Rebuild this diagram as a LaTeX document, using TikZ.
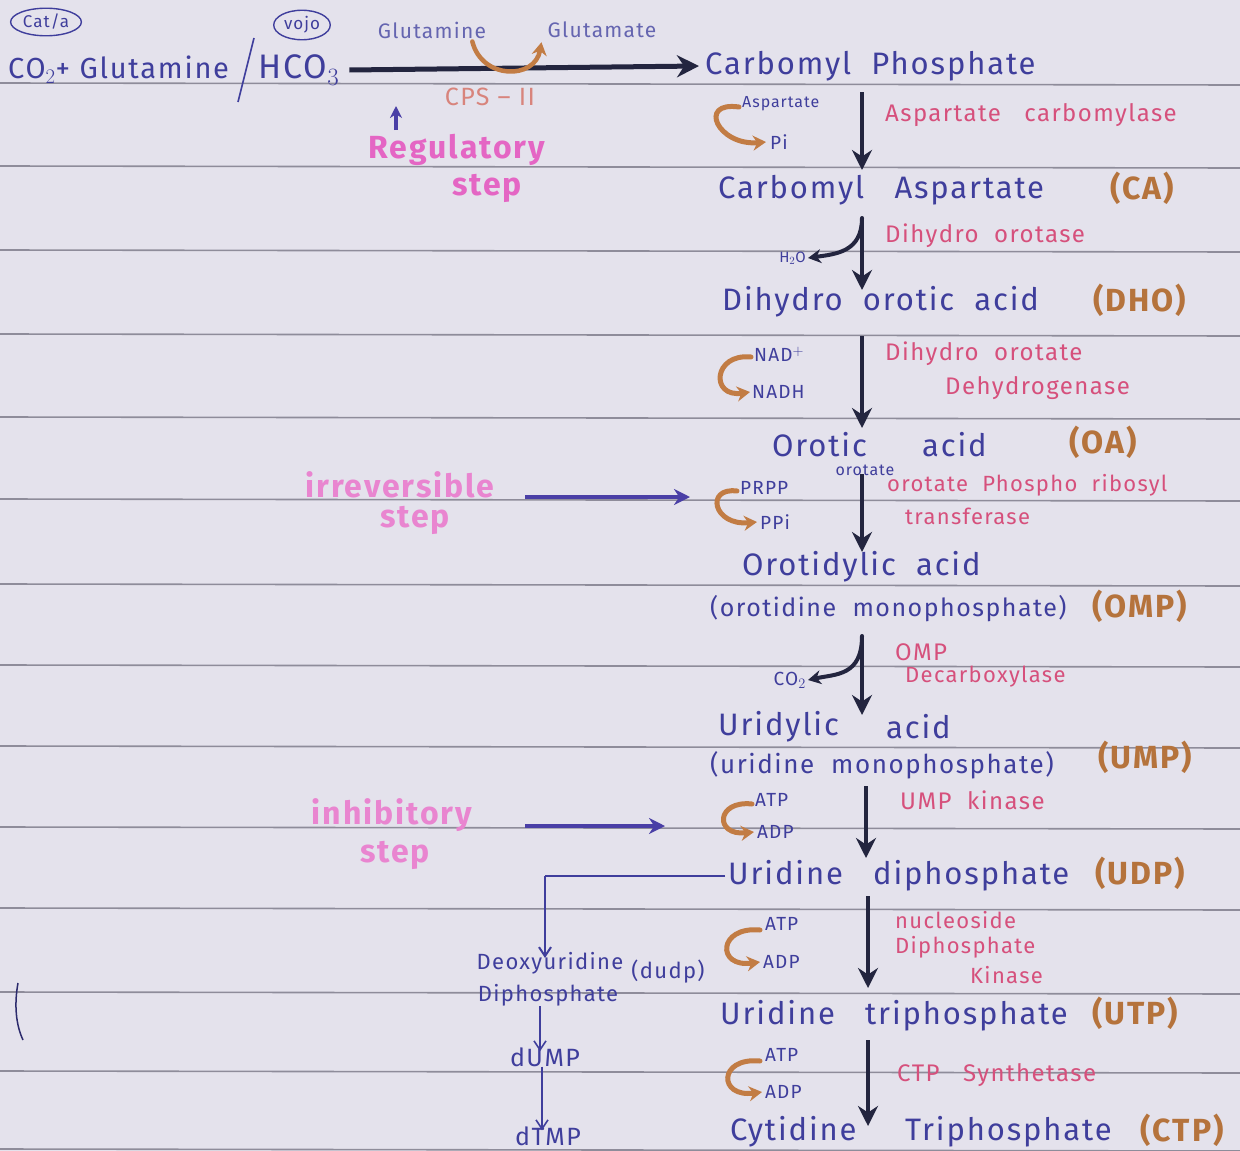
\documentclass[tikz,border=0pt]{standalone}
\usepackage{fontspec}
\setmainfont[LetterSpace=6]{Fira Sans}
\usetikzlibrary{arrows.meta,shapes.geometric}
\definecolor{paper}{HTML}{E4E2EC}
\definecolor{rule}{HTML}{8E8C9A}
\definecolor{ink}{HTML}{3F3E9C}
\definecolor{enz}{HTML}{D6507C}
\definecolor{abbr}{HTML}{B5733C}
\definecolor{orarr}{HTML}{C27C44}
\definecolor{dark}{HTML}{23253F}
\definecolor{mag}{HTML}{E466C4}
\definecolor{salmon}{HTML}{D8847C}
\definecolor{purp}{HTML}{4A3FA6}
\tikzset{
  main/.style={text=ink, font=\fontsize{31}{34}\selectfont, inner sep=0pt},
  enzy/.style={text=enz, font=\fontsize{24}{27}\selectfont, inner sep=0pt},
  cof/.style={text=ink, font=\fontsize{19}{22}\selectfont, inner sep=0pt},
  abb/.style={text=abbr, font=\fontsize{32}{36}\selectfont\bfseries, inner sep=0pt},
  lab/.style={text=mag, font=\fontsize{32}{35}\selectfont\bfseries, inner sep=0pt},
  side/.style={text=ink, font=\fontsize{22}{25}\selectfont, inner sep=0pt},
  ruled/.style={draw=rule, line width=1.6pt},
  mainarr/.style={draw=dark, line width=4.5pt, -{Stealth[length=20pt,width=20pt]}},
  brarr/.style={draw=dark, line width=4pt, line cap=round, -{Stealth[length=13pt,width=14pt]}},
  orcurve/.style={draw=orarr, line width=5pt, line cap=round, -{Stealth[length=13pt,width=15pt]}},
  purarr/.style={draw=purp, line width=3.5pt, -{Stealth[length=16pt,width=16pt]}},
  thinarr/.style={draw=ink, line width=1.6pt, -{Straight Barb[length=9pt,width=12pt]}}
}
\begin{document}
\begin{tikzpicture}[x=1pt,y=-1pt]
\fill[paper] (0,0) rectangle (1240,1151);
\useasboundingbox (0,0) rectangle (1240,1151);
% ruled lines
\foreach \yy in {83,166,250,334,417,499,584,665,746,827,908,992,1071,1149}
  \draw[ruled] (0,\yy) -- (1240,\yy+2);
% margin mark
\draw[draw=ink!70!black, line width=1.5pt] (18,983) .. controls (14,1005) and (16,1025) .. (23,1040);

\coordinate (col) at (862,0);

% top reaction
\node[draw=ink, ellipse, line width=1.4pt, inner sep=2pt, text=ink, font=\fontsize{17}{19}\selectfont] (cat) at (46,22) {Cat/a};
\node[draw=ink, ellipse, line width=1.4pt, inner sep=2pt, text=ink, font=\fontsize{17}{19}\selectfont] (vojo) at (302,25) {vojo};
\node[main, anchor=west, font=\fontsize{29}{32}\selectfont] (co2) at (8,70) {CO$_2$+ Glutamine};
\coordinate (sl1) at (238,102);
\coordinate (sl2) at (254,38);
\draw[ink, line width=1.6pt] (sl1) -- (sl2);
\node[main, anchor=west, font=\fontsize{34}{36}\selectfont] (hco) at (258,70) {HCO$_3$};
\node[main, anchor=west] (cp) at (705,66) {Carbomyl\ \ Phosphate};
\draw[draw=dark, line width=5pt, -{Stealth[length=22pt,width=22pt]}] ([xshift=10pt]hco.east) -- ([xshift=-6pt]cp.west);
\node[cof, text=ink!80, font=\fontsize{21}{24}\selectfont] (gln) at (432,30) {Glutamine};
\node[cof, text=ink!80, font=\fontsize{21}{24}\selectfont] (glu) at (602,30) {Glutamate};
\draw[orcurve, line width=4.5pt] ([xshift=-14pt,yshift=-3pt]gln.south east) .. controls (482,80) and (535,80) .. ([xshift=-6pt,yshift=-4pt]glu.south west);
\node[text=salmon, font=\fontsize{25}{27}\selectfont, inner sep=0pt] (cps) at (490,97) {CPS -- II};
\node[lab] (reg) at (457,150) {Regulatory};
\node[lab] (regs) at (487,188) {step};
\draw[draw=purp, line width=3.5pt, -{Stealth[length=12pt,width=12pt]}] (396,130) -- (396,106);

% main chain
\node[main, anchor=west] (ca) at (718,190) {Carbomyl\ \ \ Aspartate};
\node[abb] (caab) at (1142,188) {(CA)};
\node[main, anchor=west] (dho) at (722,302) {Dihydro\ \ orotic\ \ acid};
\node[abb] (dhoab) at (1140,300) {(DHO)};
\node[main, anchor=west] (oa) at (772,445) {Orotic};
\node[main, anchor=west] (oa2) at (922,445) {acid};
\node[abb] (oaab) at (1103,442) {(OA)};
\node[main, anchor=west] (omp1) at (742,567) {Orotidylic\ \ acid};
\node[main, anchor=west, font=\fontsize{25}{29}\selectfont] (omp2) at (710,609) {(orotidine\ \ monophosphate)};
\node[abb] (ompab) at (1140,606) {(OMP)};
\node[main, anchor=west] (ump1) at (718,727) {Uridylic};
\node[main, anchor=west] (ump1b) at (886,727) {acid};
\node[main, anchor=west, font=\fontsize{26}{30}\selectfont] (ump2) at (710,765) {(uridine\ \ monophosphate)};
\node[abb] (umpab) at (1145,757) {(UMP)};
\node[main, anchor=west] (udp) at (728,876) {Uridine\ \ \ diphosphate};
\node[abb] (udpab) at (1140,873) {(UDP)};
\node[main, anchor=west] (utp) at (720,1016) {Uridine\ \ \ triphosphate};
\node[abb] (utpab) at (1135,1013) {(UTP)};
\node[main, anchor=west] (ctp) at (730,1132) {Cytidine};
\node[main, anchor=west] (ctp2) at (905,1132) {Triphosphate};
\node[abb] (ctpab) at (1182,1130) {(CTP)};

% main arrows
\draw[mainarr] (col |- 0,92) coordinate (a1s) -- (col |- 0,170);
\draw[mainarr] (col |- 0,218) coordinate (a2s) -- (col |- 0,290);
\draw[mainarr] (col |- 0,336) -- (col |- 0,428);
\draw[mainarr] (col |- 0,474) -- (col |- 0,552);
\draw[mainarr] (col |- 0,636) coordinate (a5s) -- (col |- 0,715);
\draw[mainarr] ([xshift=4pt]col |- 0,786) -- ([xshift=4pt]col |- 0,858);
\draw[mainarr] ([xshift=6pt]col |- 0,896) -- ([xshift=6pt]col |- 0,988);
\draw[mainarr] ([xshift=6pt]col |- 0,1040) -- ([xshift=6pt]col |- 0,1126);

% enzymes
\node[enzy, anchor=west] (e1) at (885,115) {Aspartate\ \ \ carbomylase};
\node[enzy, anchor=west] (e2) at (885,236) {Dihydro\ \ orotase};
\node[enzy, anchor=west] (e3a) at (885,354) {Dihydro\ \ orotate};
\node[enzy, anchor=west] (e3b) at (945,388) {Dehydrogenase};
\node[enzy, anchor=west, font=\fontsize{22}{24}\selectfont] (e4a) at (887,485) {orotate\ \ Phospho\ \ ribosyl};
\node[enzy, anchor=west, font=\fontsize{22}{24}\selectfont] (e4b) at (905,516) {transferase};
\node[enzy, anchor=west] (e5a) at (895,652) {OMP};
\node[enzy, anchor=west, font=\fontsize{22}{24}\selectfont] (e5b) at (905,677) {Decarboxylase};
\node[enzy, anchor=west] (e6) at (900,800) {UMP\ \ kinase};
\node[enzy, anchor=west, font=\fontsize{22}{24}\selectfont] (e7a) at (895,920) {nucleoside};
\node[enzy, anchor=west, font=\fontsize{22}{24}\selectfont] (e7b) at (895,947) {Diphosphate};
\node[enzy, anchor=west, font=\fontsize{22}{24}\selectfont] (e7c) at (970,975) {Kinase};
\node[enzy, anchor=west] (e8) at (897,1075) {CTP\ \ \ Synthetase};
\node[cof, font=\fontsize{16}{18}\selectfont] (orot) at (865,470) {orotate};

% cofactors
\node[cof, anchor=west, font=\fontsize{16}{18}\selectfont] (asp) at (742,104) {Aspartate};
\node[cof, anchor=west] (pi) at (770,142) {Pi};
\draw[orcurve] ([xshift=-3pt,yshift=-3pt]asp.west) .. controls +(-42,-6) and +(-48,4) .. ([xshift=-4pt]pi.west);

\node[cof, anchor=east, font=\fontsize{15}{17}\selectfont] (h2o) at (806,258) {H$_2$O};
\draw[brarr] (a2s) .. controls (862,252) and (836,254) .. ([xshift=2pt]h2o.east);

\node[cof, anchor=west] (nad) at (754,354) {NAD$^+$};
\node[cof, anchor=west] (nadh) at (752,392) {NADH};
\draw[orcurve] ([xshift=-3pt,yshift=-3pt]nad.west) .. controls +(-38,-4) and +(-40,6) .. ([xshift=-2pt]nadh.west);

\node[cof, anchor=west] (prpp) at (740,488) {PRPP};
\node[cof, anchor=west] (ppi) at (760,522) {PPi};
\draw[orcurve] ([xshift=-3pt,yshift=-3pt]prpp.west) .. controls +(-32,-4) and +(-44,4) .. ([xshift=-3pt]ppi.west);

\node[cof, anchor=east, font=\fontsize{19}{21}\selectfont] (co2b) at (806,680) {CO$_2$};
\draw[brarr] (a5s) .. controls (862,676) and (836,674) .. ([xshift=2pt]co2b.east);

\node[cof, anchor=west] (atp1) at (755,800) {ATP};
\node[cof, anchor=west] (adp1) at (757,832) {ADP};
\draw[orcurve] ([xshift=-3pt,yshift=-4pt]atp1.west) .. controls +(-36,-4) and +(-40,4) .. ([xshift=-3pt]adp1.west);

\node[cof, anchor=west] (atp2) at (765,924) {ATP};
\node[cof, anchor=west] (adp2) at (763,962) {ADP};
\draw[orcurve] ([xshift=-5pt,yshift=-6pt]atp2.west) .. controls +(-42,-4) and +(-44,6) .. ([xshift=-3pt]adp2.west);

\node[cof, anchor=west] (atp3) at (765,1055) {ATP};
\node[cof, anchor=west] (adp3) at (765,1092) {ADP};
\draw[orcurve] ([xshift=-5pt,yshift=-6pt]atp3.west) .. controls +(-42,-4) and +(-44,6) .. ([xshift=-3pt]adp3.west);

% left labels
\node[lab, text=mag!80] (irr) at (400,485) {irreversible};
\node[lab, text=mag!80] (irrs) at (415,520) {step};
\draw[purarr] (525,497) -- ([xshift=-50pt]prpp.west |- 0,497);
\node[lab, text=mag!80] (inh) at (392,815) {inhibitory};
\node[lab, text=mag!80] (inhs) at (395,855) {step};
\draw[purarr] (525,826) -- ([xshift=-90pt]atp1.west |- 0,826);

% branch to deoxy
\coordinate (br) at (545,876);
\node[side] (dud1) at (550,963) {Deoxyuridine};
\node[side] (dud2) at (548,995) {Diphosphate};
\node[side] (dudab) at (668,972) {(dudp)};
\node[main, font=\fontsize{25}{28}\selectfont] (dump) at (545,1057) {dUMP};
\node[main, font=\fontsize{25}{28}\selectfont] (dtmp) at (548,1136) {dTMP};
\draw[draw=ink, line width=2pt] ([xshift=-3pt]udp.west) -- (br);
\draw[thinarr, line width=2pt] (br) -- ([yshift=-6pt]br |- dud1.north);
\draw[thinarr] ([xshift=-8pt]dud2.south) -- ([xshift=-8pt,yshift=-4pt]dud2.south |- dump.north);
\draw[thinarr] ([xshift=-3pt]dump.south) -- ([xshift=-3pt,yshift=-4pt]dump.south |- dtmp.north);
\end{tikzpicture}
\end{document}
